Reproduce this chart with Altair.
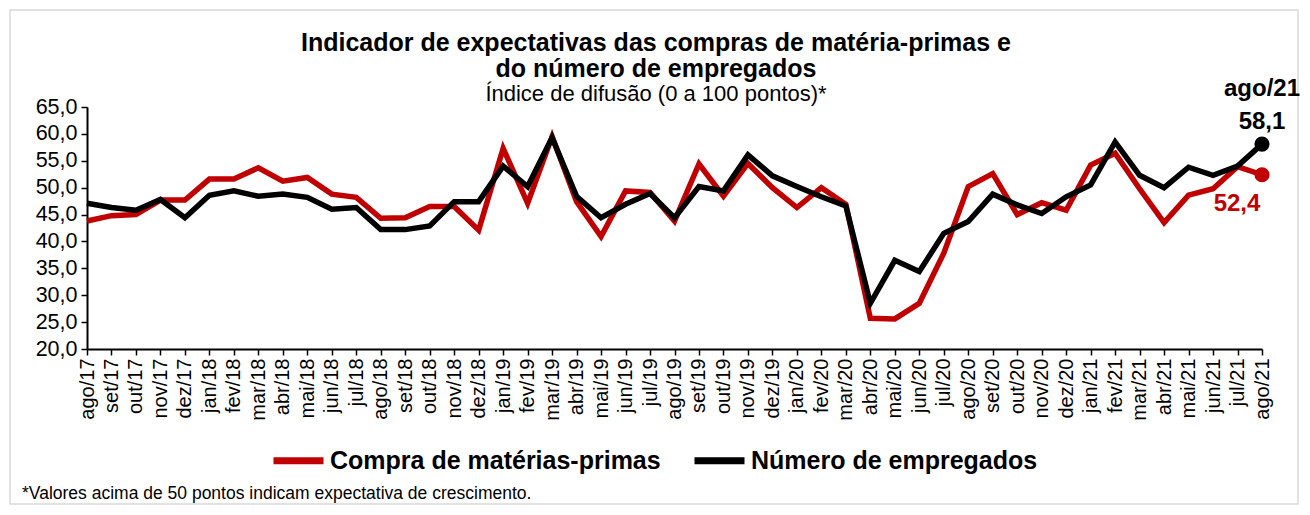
import altair as alt
import pandas as pd

months = ["ago/17", "set/17", "out/17", "nov/17", "dez/17", "jan/18", "fev/18", "mar/18",
          "abr/18", "mai/18", "jun/18", "jul/18", "ago/18", "set/18", "out/18", "nov/18",
          "dez/18", "jan/19", "fev/19", "mar/19", "abr/19", "mai/19", "jun/19", "jul/19",
          "ago/19", "set/19", "out/19", "nov/19", "dez/19", "jan/20", "fev/20", "mar/20",
          "abr/20", "mai/20", "jun/20", "jul/20", "ago/20", "set/20", "out/20", "nov/20",
          "dez/20", "jan/21", "fev/21", "mar/21", "abr/21", "mai/21", "jun/21", "jul/21",
          "ago/21"]

compra = [43.8, 44.8, 45.0, 47.7, 47.7, 51.6, 51.6, 53.7, 51.2, 51.9, 48.8, 48.2,
          44.3, 44.4, 46.5, 46.5, 42.1, 57.3, 47.1, 59.5, 47.4, 40.9, 49.4, 49.1,
          43.8, 54.4, 48.4, 54.5, 50.0, 46.3, 50.0, 46.9, 25.7, 25.6, 28.5, 37.8,
          50.2, 52.6, 45.0, 47.2, 45.8, 54.2, 56.4, 49.8, 43.5, 48.6, 49.8, 53.9,
          52.4]

empregados = [47.1, 46.3, 45.8, 47.8, 44.4, 48.6, 49.4, 48.4, 48.8, 48.2, 46.0, 46.3,
              42.2, 42.2, 42.9, 47.4, 47.4, 54.0, 50.2, 59.3, 48.4, 44.4, 46.9, 48.9,
              44.4, 50.2, 49.4, 56.1, 52.2, 50.2, 48.3, 46.6, 28.5, 36.5, 34.4, 41.5,
              43.7, 48.8, 46.8, 45.2, 48.3, 50.5, 58.5, 52.3, 50.0, 53.8, 52.3, 54.0,
              58.1]

series_names = ["Compra de matérias-primas", "Número de empregados"]
series_colors = ["#C00000", "#000000"]
y_ticks = [20, 25, 30, 35, 40, 45, 50, 55, 60, 65]

title_lines = ["Indicador de expectativas das compras de matéria-primas e",
               "do número de empregados"]
subtitle = "Índice de difusão (0 a 100 pontos)*"
footnote = "*Valores acima de 50 pontos indicam expectativa de crescimento."

FONT = "Liberation Sans"
W, H = 1175, 242

df = pd.DataFrame({
    "mes": months * 2,
    "serie": [series_names[0]] * len(months) + [series_names[1]] * len(months),
    "valor": compra + empregados,
})

last = pd.DataFrame({
    "mes": [months[-1], months[-1]],
    "serie": series_names,
    "valor": [compra[-1], empregados[-1]],
})
last["rotulo"] = last["valor"].map(lambda v: f"{v:.1f}".replace(".", ","))

x_enc = alt.X("mes:O", sort=months, scale=alt.Scale(padding=0),
              axis=alt.Axis(title=None, labelAngle=-90, labelFont=FONT, labelFontSize=20,
                            labelColor="black", domainColor="black", domainWidth=2,
                            tickColor="black", tickWidth=1.5, tickSize=6, labelPadding=3,
                            labelOverlap=False))
y_enc = alt.Y("valor:Q", scale=alt.Scale(domain=[20, 65], nice=False, zero=False),
              axis=alt.Axis(title=None, values=y_ticks, grid=False,
                            labelExpr="replace(format(datum.value, '.1f'), '.', ',')",
                            labelFont=FONT, labelFontSize=21.5, labelColor="black",
                            domainColor="black", domainWidth=2, tickColor="black",
                            tickWidth=1.5, tickSize=6, labelPadding=4))
color_enc = alt.Color("serie:N", scale=alt.Scale(domain=series_names, range=series_colors),
                      legend=alt.Legend(title=None, orient="none", direction="horizontal",
                                        legendX=183, legendY=325, symbolType="stroke",
                                        symbolStrokeWidth=7, symbolSize=2500,
                                        labelFont=FONT, labelFontSize=25,
                                        labelFontWeight="bold", labelColor="black",
                                        columnPadding=19, labelOffset=3, labelLimit=600))

base = alt.Chart(df)
red_line = base.transform_filter(alt.datum.serie == series_names[0]).mark_line(
    strokeWidth=5.5).encode(x=x_enc, y=y_enc, color=color_enc)
black_line = base.transform_filter(alt.datum.serie == series_names[1]).mark_line(
    strokeWidth=5.5).encode(x=x_enc, y=y_enc, color=color_enc)

lastc = alt.Chart(last)
red_pt = lastc.transform_filter(alt.datum.serie == series_names[0]).mark_circle(
    size=230, opacity=1, color=series_colors[0]).encode(x=x_enc, y=y_enc)
black_pt = lastc.transform_filter(alt.datum.serie == series_names[1]).mark_circle(
    size=230, opacity=1, color=series_colors[1]).encode(x=x_enc, y=y_enc)

black_month = lastc.transform_filter(alt.datum.serie == series_names[1]).mark_text(
    font=FONT, fontSize=24, fontWeight="bold", color=series_colors[1], dy=-48,
    baseline="alphabetic", align="center").encode(x=x_enc, y=y_enc, text="mes:N")
black_val = lastc.transform_filter(alt.datum.serie == series_names[1]).mark_text(
    font=FONT, fontSize=24, fontWeight="bold", color=series_colors[1], dy=-15,
    baseline="alphabetic", align="center").encode(x=x_enc, y=y_enc, text="rotulo:N")
red_val = lastc.transform_filter(alt.datum.serie == series_names[0]).mark_text(
    font=FONT, fontSize=24, fontWeight="bold", color=series_colors[0], dy=36, dx=-25,
    baseline="alphabetic", align="center").encode(x=x_enc, y=y_enc, text="rotulo:N")


def label(text, xpos, ypos, size, weight="normal", align="center"):
    return alt.Chart(pd.DataFrame({"t": [text]})).mark_text(
        font=FONT, fontSize=size, fontWeight=weight, color="black", align=align,
        baseline="alphabetic").encode(text="t:N", x=alt.value(xpos), y=alt.value(ypos))


t1 = label(title_lines[0], 569, -56, 25, "bold")
t2 = label(title_lines[1], 569, -30, 25, "bold")
t3 = label(subtitle, 569, -6, 22)
fn = label(footnote, -65, 392, 17.5, align="left")

border = alt.Chart(pd.DataFrame({"b": [1]})).mark_rect(
    filled=False, stroke="#d9d9d9", strokeWidth=1.5).encode(
    x=alt.value(-77), x2=alt.value(1211), y=alt.value(-97), y2=alt.value(397))

chart = alt.layer(border, red_line, black_line, red_pt, black_pt,
                  black_month, black_val, red_val, t1, t2, t3, fn).properties(
    width=W, height=H,
    autosize=alt.AutoSizeParams(type="none"),
    padding={"left": 79, "top": 99, "right": 38, "bottom": 157},
    background="white",
).configure_view(stroke=None)

chart.save("out.html", embed_options={"renderer": "svg", "actions": False})
